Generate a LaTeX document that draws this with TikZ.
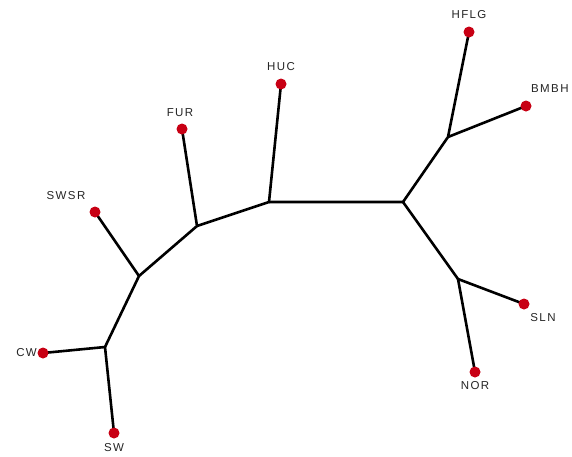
\documentclass[tikz,border=0pt]{standalone}
\usepackage{fontspec}
\setmainfont{Liberation Sans}
\newfontfamily\labfont[LetterSpace=12]{Liberation Sans}
\definecolor{dotred}{RGB}{200,0,20}
\begin{document}
\begin{tikzpicture}[x=1pt,y=-1pt,
  br/.style={line width=2.6pt,black},
  leaf/.style={circle,fill=dotred,inner sep=0pt,minimum size=10pt},
  lab/.style={font=\labfont\fontsize{11.5}{13}\selectfont,text=black!85,inner sep=0pt}]
\useasboundingbox (0,0) rectangle (572,456);
\fill[white] (0,0) rectangle (572,456);
% internal nodes
\coordinate (A) at (139,276);
\coordinate (B) at (105,347);
\coordinate (C) at (197,226);
\coordinate (D) at (269,202);
\coordinate (E) at (403,202);
\coordinate (F) at (448,137);
\coordinate (G) at (458,279);
% leaves
\node[leaf] (swsr) at (95,212) {};
\node[leaf] (cw) at (43,353) {};
\node[leaf] (sw) at (114,433) {};
\node[leaf] (fur) at (182,129) {};
\node[leaf] (huc) at (281,84) {};
\node[leaf] (hflg) at (469,32) {};
\node[leaf] (bmbh) at (526,106) {};
\node[leaf] (sln) at (524,304) {};
\node[leaf] (nor) at (475,372) {};
% edges
\draw[br] (sw.center) -- (B) -- (cw.center);
\draw[br] (B) -- (A) -- (swsr.center);
\draw[br] (A) -- (C) -- (fur.center);
\draw[br] (C) -- (D) -- (huc.center);
\draw[br] (D) -- (E) -- (F) -- (hflg.center);
\draw[br] (F) -- (bmbh.center);
\draw[br] (E) -- (G) -- (sln.center);
\draw[br] (G) -- (nor.center);
% redraw dots on top
\foreach \n in {swsr,cw,sw,fur,huc,hflg,bmbh,sln,nor}
  \fill[dotred] (\n.center) circle (5.5pt);
% labels
\node[lab] (lswsr) at (66,196) {SWSR};
\node[lab,anchor=east] (lcw) at (37,353) {CW};
\node[lab] (lsw) at (114,448) {SW};
\node[lab] (lfur) at (180,113) {FUR};
\node[lab] (lhuc) at (281,67) {HUC};
\node[lab] (lhflg) at (469,15) {HFLG};
\node[lab,anchor=west] (lbmbh) at (531,89) {BMBH};
\node[lab] (lsln) at (543,318) {SLN};
\node[lab] (lnor) at (475,386) {NOR};
\end{tikzpicture}
\end{document}
